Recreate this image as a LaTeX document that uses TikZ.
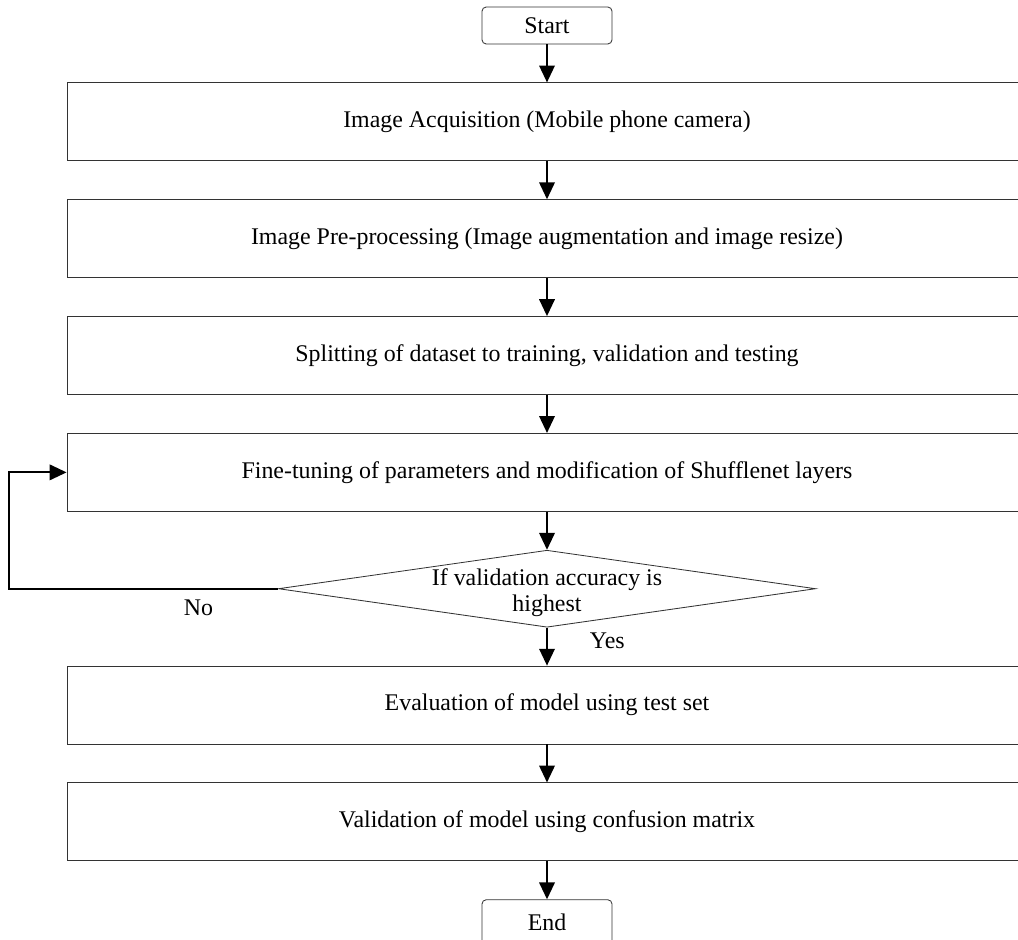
\documentclass[tikz,border=0pt]{standalone}
\usepackage{fontspec}
\setmainfont{Liberation Serif}
\usetikzlibrary{arrows.meta,positioning,shapes.geometric}

\begin{document}
\begin{tikzpicture}
    [>={Triangle[length=12pt,width=11pt]},node distance=0.95cm,
     font=\fontsize{17}{18}\selectfont,
     term/.style={draw=black!80,line width=0.6pt,rounded corners=3pt,minimum width=3.25cm,minimum height=0.925cm},
     box/.style={draw=black!80,line width=0.6pt,minimum width=24cm,minimum height=1.95cm},
     decision/.style={diamond,draw=black!80,line width=0.6pt,inner sep=0pt,minimum width=13.425cm,minimum height=1.925cm},
     flow/.style={->,line width=1.4pt}]

    \clip (0,0) rectangle (25.45,-23.5);

    \node[term] (start) at (13.675,-0.6375) {Start};
    \node[box] (acq) [below =of start] {Image Acquisition (Mobile phone camera)};
    \node[box] (pre) [below =of acq] {Image Pre-processing (Image augmentation and image resize)};
    \node[box] (split) [below =of pre] {Splitting of dataset to training, validation and testing};
    \node[box] (tune) [below =of split] {Fine-tuning of parameters and modification of Shufflenet layers};
    \node[decision] (check) [below =of tune] {};
    \node[align=center,yshift=-0.1cm] (checktxt) at (check) {If validation accuracy is\\highest};
    \node[box] (eval) [below =of check] {Evaluation of model using test set};
    \node[box] (valid) [below =of eval] {Validation of model using confusion matrix};
    \node[term,minimum height=1.15cm] (end) [below =of valid] {End};

    \node (no) [below left =0.15cm and 1.5cm of check.west] {No};
    \node (yes) [below right =0cm and 0.95cm of check.south] {Yes};
    \coordinate (loopx) at (0.225,0);

    \path[flow]
    (start) edge (acq)
    (acq) edge (pre)
    (pre) edge (split)
    (split) edge (tune)
    (tune) edge (check)
    (check) edge (eval)
    (eval) edge (valid)
    (valid) edge (end)
    ;

    \draw[flow] (check.west) -- (check.west -| loopx) |- (tune.west);

  \end{tikzpicture}
\end{document}
